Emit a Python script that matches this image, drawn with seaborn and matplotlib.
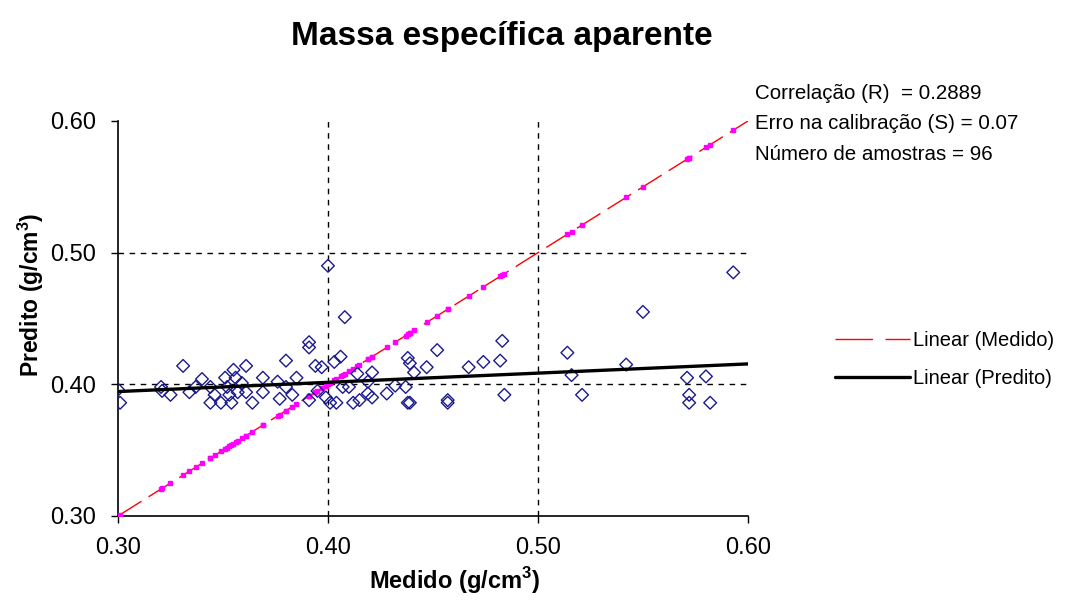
import numpy as np
import matplotlib
matplotlib.use("Agg")
import matplotlib.pyplot as plt
import seaborn as sns
from matplotlib.lines import Line2D

# valores (g/cm3)
medido = [0.300, 0.301, 0.3205, 0.321, 0.325, 0.331, 0.334, 0.337, 0.340, 0.344,
          0.344, 0.346, 0.349, 0.351, 0.352, 0.353, 0.354, 0.355, 0.356, 0.357,
          0.359, 0.361, 0.361, 0.364, 0.369, 0.369, 0.376, 0.377, 0.380, 0.380,
          0.383, 0.385, 0.391, 0.391, 0.394, 0.391, 0.395, 0.400, 0.408, 0.403,
          0.406, 0.397, 0.399, 0.401, 0.404, 0.407, 0.410, 0.412, 0.414, 0.415,
          0.419, 0.419, 0.421, 0.421, 0.428, 0.432, 0.437, 0.438, 0.439, 0.438,
          0.439, 0.441, 0.447, 0.452, 0.457, 0.457, 0.467, 0.474, 0.482, 0.483,
          0.484, 0.514, 0.516, 0.521, 0.542, 0.550, 0.571, 0.572, 0.572, 0.580,
          0.582, 0.593]
predito = [0.396, 0.386, 0.398, 0.395, 0.392, 0.414, 0.394, 0.398, 0.404, 0.398,
           0.386, 0.392, 0.386, 0.405, 0.398, 0.392, 0.386, 0.411, 0.405, 0.394,
           0.401, 0.414, 0.394, 0.386, 0.405, 0.394, 0.402, 0.389, 0.418, 0.398,
           0.392, 0.405, 0.432, 0.428, 0.414, 0.388, 0.395, 0.490, 0.451, 0.417,
           0.421, 0.413, 0.390, 0.386, 0.386, 0.398, 0.398, 0.386, 0.408, 0.388,
           0.393, 0.402, 0.409, 0.390, 0.393, 0.399, 0.398, 0.420, 0.416, 0.386,
           0.386, 0.409, 0.413, 0.426, 0.386, 0.388, 0.413, 0.417, 0.418, 0.433,
           0.392, 0.424, 0.407, 0.392, 0.415, 0.455, 0.405, 0.392, 0.386, 0.406,
           0.386, 0.485]

# linha de tendencia do predito
tend_inclinacao = 0.070
tend_intercepto = 0.3735

ticks = [0.30, 0.40, 0.50, 0.60]
stats = ["Correlação (R)  = 0.2889",
         "Erro na calibração (S) = 0.07",
         "Número de amostras = 96"]

sns.set_style("white")
plt.rcParams["font.family"] = ["Liberation Sans", "DejaVu Sans"]
plt.rcParams["mathtext.fontset"] = "custom"
plt.rcParams["mathtext.bf"] = "Liberation Sans:bold"
plt.rcParams["mathtext.rm"] = "Liberation Sans"
for k in ["text.color", "axes.labelcolor", "xtick.color", "ytick.color"]:
    plt.rcParams[k] = "black"

fig = plt.figure(figsize=(10.65, 6.12), dpi=100)
ax = fig.add_axes([0.1108, 0.1569, 0.7023 - 0.1108, 0.8023 - 0.1569])

x = np.array(medido)
y = np.array(predito)
lims = np.array([ticks[0], ticks[-1]])

# grade so em 0.40 e 0.50
for t in ticks[1:-1]:
    ax.axhline(t, color="black", lw=1.0, ls=(0, (4, 4)), zorder=1)
    ax.axvline(t, color="black", lw=1.0, ls=(0, (4, 4)), zorder=1)

# medido x medido (linha 1:1)
b1 = np.polyfit(x, x, 1)
ax.plot(lims, np.polyval(b1, lims), color="#FF0000", lw=1.0, ls=(0, (20, 6)), zorder=2)
ax.plot(x, x, ls="none", marker="s", ms=2.5, color="#FF00FF", mec="#FF00FF", zorder=3)

sns.scatterplot(x=x, y=y, ax=ax, marker="D", s=42, facecolor="none",
                edgecolor="#1a1a8c", linewidth=1.0, zorder=4)

ax.plot(lims, tend_intercepto + tend_inclinacao * lims, color="black", lw=2.4, zorder=5)

ax.set_xlim(lims)
ax.set_ylim(lims)
ax.set_xticks(ticks)
ax.set_yticks(ticks)
ax.set_xticklabels([f"{t:.2f}" for t in ticks], fontsize=17)
ax.set_yticklabels([f"{t:.2f}" for t in ticks], fontsize=17)
ax.tick_params(axis="x", direction="out", length=5, width=1, color="black",
               bottom=True, pad=10)
ax.tick_params(axis="y", direction="out", length=5, width=1, color="black",
               left=True, pad=11)
for s in ["top", "right"]:
    ax.spines[s].set_visible(False)
for s in ["left", "bottom"]:
    ax.spines[s].set_color("black")
    ax.spines[s].set_linewidth(1.2)

ax.set_xlabel(r"Medido (g/cm$^\mathbf{3}$)", fontsize=17, fontweight="bold")
ax.set_ylabel(r"Predito (g/cm$^\mathbf{3}$)", fontsize=16.5, fontweight="bold")
ax.xaxis.set_label_coords(0.535, -0.125)
ax.yaxis.set_label_coords(-0.115, 0.56)
fig.text(0.471, 0.94, "Massa específica aparente", ha="center", va="center",
         fontsize=24, fontweight="bold")

for i, s in enumerate(stats):
    fig.text(0.709, 0.848 - i * 0.05, s, ha="left", va="center", fontsize=14.8)

handles = [Line2D([], [], color="#FF0000", lw=1.0, ls=(0, (27, 9))),
           Line2D([], [], color="black", lw=2.4)]
fig.legend(handles, ["Linear (Medido)", "Linear (Predito)"], loc="center left",
           bbox_to_anchor=(0.775, 0.412), frameon=False, fontsize=14.5,
           handlelength=3.7, handletextpad=0.15, labelspacing=0.95, borderpad=0)

fig.savefig("out.png", dpi=100)
